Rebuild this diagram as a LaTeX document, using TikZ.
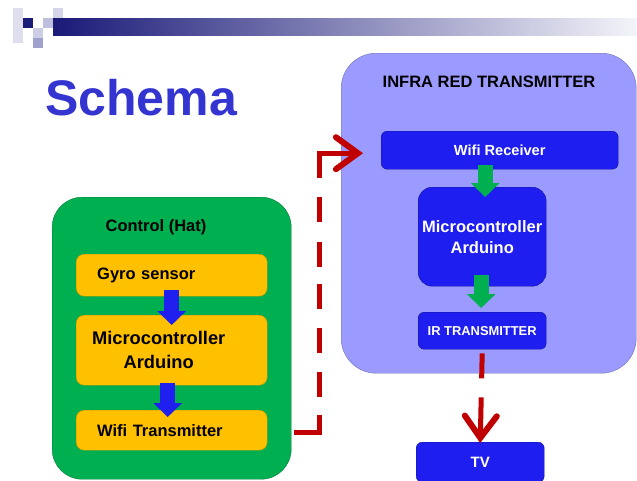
\documentclass[tikz,border=0pt]{standalone}
\usepackage{fontspec}
\setmainfont{Liberation Sans}
\usetikzlibrary{positioning, arrows.meta}
\definecolor{hatgreen}{HTML}{00B050}
\definecolor{hatgreendark}{HTML}{00783A}
\definecolor{partorange}{HTML}{FFC000}
\definecolor{partorangedark}{HTML}{C89400}
\definecolor{irlavender}{HTML}{9B9BFF}
\definecolor{irlavenderdark}{HTML}{6E6EB0}
\definecolor{irblue}{HTML}{1E1EF0}
\definecolor{irbluedark}{HTML}{14148C}
\definecolor{irred}{HTML}{C00000}
\definecolor{arrowblue}{HTML}{1F1FF0}
\definecolor{titleblue}{HTML}{3434D0}
\definecolor{barnavy}{HTML}{1A1A78}

\begin{document}
\begin{tikzpicture}[
    x=1pt, y=-1pt,
    group/.style={draw, rounded corners=#1, anchor=north west, inner sep=0pt},
    part/.style={draw=partorangedark, fill=partorange, rounded corners=8pt, anchor=north west,
        minimum width=191pt, inner sep=0pt, font=\fontsize{16.5}{20}\bfseries},
    leftpart/.style={part, align=left, text width=149pt, inner xsep=21pt},
    irpart/.style={draw=irbluedark, fill=irblue, text=white, rounded corners=#1, anchor=north west,
        inner sep=0pt, align=center},
    fat/.style={line width=15pt, -{Triangle[length=14pt, width=28pt]}},
    redbarb/.tip={Straight Barb[length=22pt, width=32pt, line width=6pt, line cap=round]},
    link/.style={draw=irred, line width=5pt, -redbarb}
]
\useasboundingbox (0,0) rectangle (637,480);

% header bar
\fill[fill={rgb,255:red,222;green,222;blue,238}] (13,8) rectangle (23,43);
\fill[barnavy] (23,18) rectangle (33,28);
\fill[fill={rgb,255:red,205;green,205;blue,230}] (33,28) rectangle (43,38);
\fill[fill={rgb,255:red,160;green,160;blue,204}] (33,38) rectangle (43,48);
\fill[fill={rgb,255:red,190;green,190;blue,222}] (43,18) rectangle (53,28);
\fill[fill={rgb,255:red,212;green,212;blue,234}] (53,8) rectangle (63,18);
\shade[left color=barnavy, right color={rgb,255:red,244;green,244;blue,250}] (53,18) rectangle (637,35);

\node[anchor=base west, inner sep=0pt, text=titleblue, font=\fontsize{50}{56}\bfseries] (title) at (45,115) {Schema};

% control (hat)
\node[group=30pt, fill=hatgreen, draw=hatgreendark, minimum width=239pt, minimum height=282pt] (hat) at (52,197) {};
\node[font=\fontsize{16.5}{20}\bfseries] (hattitle) at (156,227) {Control (Hat)};
\node[leftpart, minimum height=42pt] (gyro) at (76,254) {Gyro sensor};
\node[part, minimum height=70pt,
    label={[xshift=-13pt, align=center, font=\fontsize{18.3}{24}\bfseries]center:Microcontroller\\Arduino}] (mcuA) at (76,315) {};
\node[leftpart, minimum height=40pt] (wtx) at (76,410) {Wifi Transmitter};

\draw[fat, arrowblue] ([yshift=6pt]gyro.south) -- ([yshift=-10pt]mcuA.north);
\draw[fat, arrowblue] ([xshift=-4pt, yshift=2pt]mcuA.south) -- ([xshift=-4pt, yshift=-7pt]wtx.north);

% infra red transmitter
\node[group=35pt, fill=irlavender, draw=irlavenderdark, minimum width=295pt, minimum height=320pt] (irbox) at (341,53) {};
\node[font=\fontsize{16.5}{20}\bfseries] (irtitle) at (489,82) {INFRA RED TRANSMITTER};
\node[irpart=6pt, minimum width=237pt, minimum height=38pt, font=\fontsize{14.6}{18}\bfseries] (wrx) at (381,131) {Wifi Receiver};
\node[irpart=14pt, minimum width=128pt, minimum height=99pt, font=\fontsize{16.5}{21}\bfseries] (mcuB) at (418,187) {Microcontroller\\Arduino};
\node[irpart=6pt, minimum width=128pt, minimum height=37pt, font=\fontsize{12.9}{16}\bfseries] (irtx) at (418,312) {IR TRANSMITTER};
\node[irpart=6pt, minimum width=128pt, minimum height=40pt, font=\fontsize{15}{18}\bfseries] (tv) at (416,442) {TV};

\draw[fat, hatgreen] ([xshift=3pt]mcuB.north |- wrx.south) ++(0,-4) -- ([xshift=3pt, yshift=-10pt]mcuB.north);
\draw[fat, hatgreen] ([xshift=-1pt, yshift=11pt]mcuB.south) -- ([xshift=-1pt, yshift=4pt]irtx.north);

% links
\draw[link, dash pattern=on 42pt off 18pt on 25pt off 19pt on 25pt off 19pt on 25pt off 17pt
    on 25pt off 20pt on 25pt off 19pt on 300pt off 1pt]
    ([xshift=3pt, yshift=-2pt]hat.east |- wtx.east) -- ++(25,0) |- ([xshift=-18pt, yshift=-3pt]wrx.west);
\draw[link, dash pattern=on 25pt off 19pt on 100pt off 1pt] ([yshift=-4pt]irtx.south) -- ([yshift=-1pt]tv.north);

\end{tikzpicture}
\end{document}
